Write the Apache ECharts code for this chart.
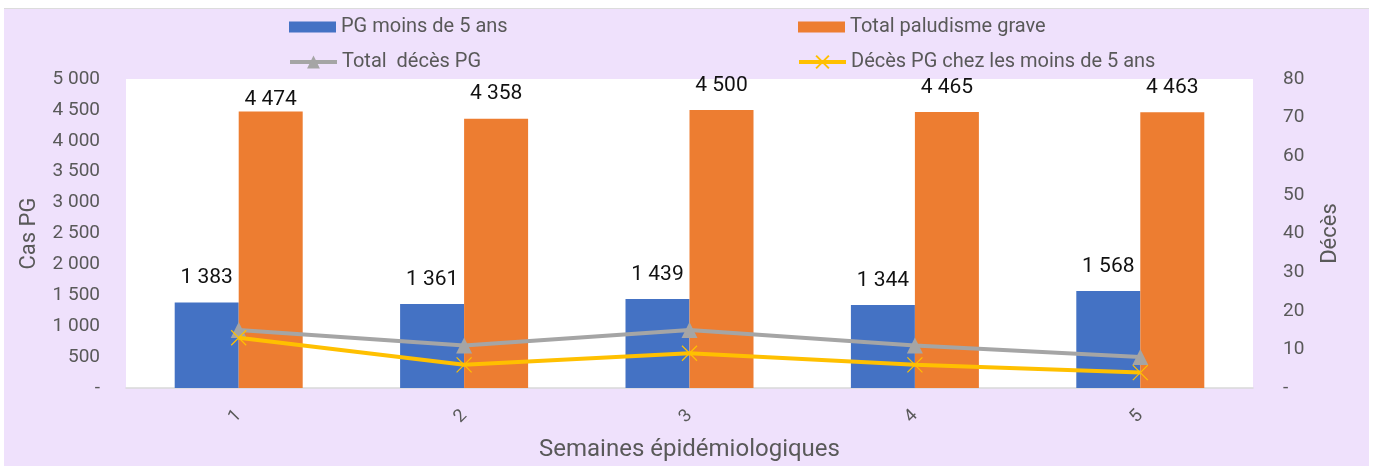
<!DOCTYPE html>
<html>
<head>
<meta charset="utf-8">
<script src="https://cdn.jsdelivr.net/npm/echarts@6/dist/echarts.min.js"></script>
<style>
  html, body { margin: 0; padding: 0; background: #fff; }
  #wrap { position: absolute; left: 0; top: 0; width: 1375px; height: 466px; }
  #main { position: absolute; left: 4px; top: 8px; width: 1365px; height: 458px;
          background: #EFE1FC; border-top: 1px solid #dcdcdc; }
</style>
</head>
<body>
<div id="wrap"><div id="main"></div></div>
<script>
// semaines epidemiologiques
const weeks = ['1', '2', '3', '4', '5']
// cas de paludisme grave
const pgUnder5 = [1383, 1361, 1439, 1344, 1568]
const pgTotal = [4474, 4358, 4500, 4465, 4463]
// deces (axe de droite)
const decesTotal = [15, 11, 15, 11, 8]
const decesUnder5 = [13, 6, 9, 6, 4]

const names = ['PG moins de 5 ans', 'Total paludisme grave', 'Total  décès PG', 'Décès PG chez les moins de 5 ans']

const fmt = v => v === 0 ? '-' : String(v).replace(/\B(?=(\d{3})+(?!\d))/g, ' ')
const font = 'Roboto'
const grey = '#595959'

const chart = echarts.init(document.getElementById('main'))

const legendBase = {
  padding: 0,
  itemWidth: 47,
  itemHeight: 11,
  itemGap: 6,
  textStyle: { fontFamily: font, fontSize: 20, color: grey },
  selectedMode: false
}
const lineLegend = Object.assign({}, legendBase, { itemHeight: 16, lineStyle: { width: 4 } })

const labelStyle = {
  show: true,
  position: 'top',
  distance: 14,
  fontFamily: font,
  fontSize: 21,
  color: '#111',
  formatter: p => fmt(p.value)
}

const option = {
  backgroundColor: 'transparent',
  animation: false,
  legend: [
    Object.assign({ data: [{ name: names[0], icon: 'rect' }], left: 285, top: 8 }, legendBase),
    Object.assign({ data: [{ name: names[1], icon: 'rect' }], left: 794, top: 8 }, legendBase),
    Object.assign({ data: [names[2]], left: 284, top: 43 }, lineLegend),
    Object.assign({ data: [names[3]], left: 793, top: 43 }, lineLegend)
  ],
  grid: {
    left: 122,
    right: 116,
    top: 70,
    bottom: 79,
    show: true,
    backgroundColor: '#ffffff',
    borderWidth: 0,
    containLabel: false,
    outerBoundsMode: 'none'
  },
  xAxis: {
    type: 'category',
    data: weeks,
    name: 'Semaines épidémiologiques',
    nameLocation: 'middle',
    nameGap: 50,
    nameTextStyle: { fontFamily: font, fontSize: 24, color: grey },
    axisLine: { lineStyle: { color: '#d9d9d9', width: 1.5 } },
    axisTick: { show: false },
    axisLabel: { rotate: 45, margin: 25, fontFamily: font, fontSize: 18, color: grey }
  },
  yAxis: [
    {
      type: 'value',
      min: 0,
      max: 5000,
      interval: 500,
      name: 'Cas PG',
      nameLocation: 'middle',
      nameRotate: 90,
      nameGap: 86,
      nameTextStyle: { fontFamily: font, fontSize: 22, color: grey },
      splitLine: { show: false },
      axisLine: { show: false },
      axisTick: { show: false },
      axisLabel: { margin: 26, fontFamily: font, fontSize: 19, color: grey, formatter: fmt }
    },
    {
      type: 'value',
      min: 0,
      max: 80,
      interval: 10,
      position: 'right',
      name: 'Décès',
      nameLocation: 'middle',
      nameRotate: 90,
      nameGap: 66,
      nameTextStyle: { fontFamily: font, fontSize: 22, color: grey },
      splitLine: { show: false },
      axisLine: { show: false },
      axisTick: { show: false },
      axisLabel: { margin: 30, fontFamily: font, fontSize: 19, color: grey, formatter: fmt }
    }
  ],
  series: [
    {
      name: names[0],
      type: 'bar',
      data: pgUnder5,
      barWidth: 64,
      barGap: '0%',
      itemStyle: { color: '#4472C4' },
      label: labelStyle
    },
    {
      name: names[1],
      type: 'bar',
      // first label sits lower in the original
      data: pgTotal.map((v, i) => i === 0 ? { value: v, label: { distance: 1 } } : v),
      barWidth: 64,
      itemStyle: { color: '#ED7D31' },
      label: labelStyle
    },
    {
      name: names[2],
      type: 'line',
      yAxisIndex: 1,
      data: decesTotal,
      symbol: 'triangle',
      symbolSize: 16,
      lineStyle: { color: '#A5A5A5', width: 4 },
      itemStyle: { color: '#A5A5A5' },
      z: 5
    },
    {
      name: names[3],
      type: 'line',
      yAxisIndex: 1,
      data: decesUnder5,
      symbol: 'path://M0,0L10,10M10,0L0,10',
      symbolSize: 15,
      lineStyle: { color: '#FFC000', width: 4 },
      itemStyle: { color: 'none', borderColor: '#FFC000', borderWidth: 1.2 },
      z: 6
    }
  ]
}

chart.setOption(option)
</script>
</body>
</html>
